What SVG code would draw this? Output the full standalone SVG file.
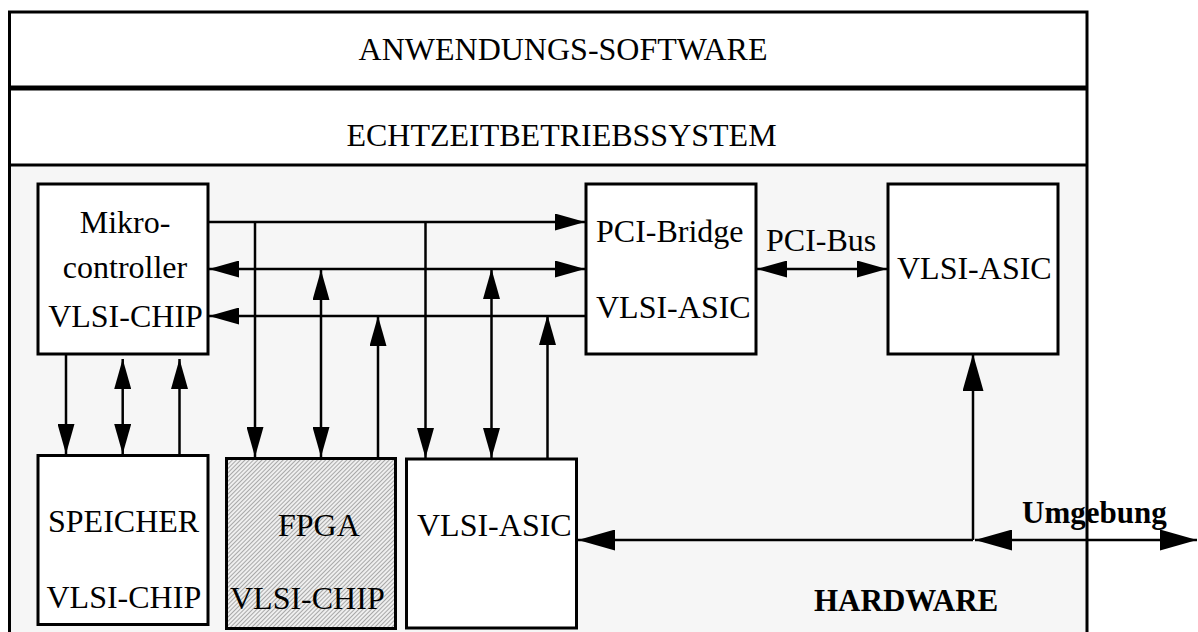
<svg xmlns="http://www.w3.org/2000/svg" width="1198" height="632" viewBox="0 0 1198 632">
  <style>
    .lbl { font-family: "Liberation Serif", "Times New Roman", serif; font-size: 32px; fill: #000; }
    .bold { font-family: "Liberation Serif", "Times New Roman", serif; font-size: 31px; font-weight: bold; fill: #000; }
    .box { fill: #fff; stroke: #000; stroke-width: 3; }
    .con { fill: none; stroke: #000; stroke-width: 2.5; }
    .arr { marker-end: url(#ah); }
    .arr2 { marker-start: url(#ah); marker-end: url(#ah); }
    .big { marker-end: url(#ahL); }
    .big2 { marker-start: url(#ahL); marker-end: url(#ahL); }
  </style>
  <defs>
    <marker id="ah" viewBox="0 0 30 17" markerWidth="30" markerHeight="17" refX="30" refY="8.5" orient="auto-start-reverse" markerUnits="userSpaceOnUse">
      <path d="M0,0 L30,8.5 L0,17 z" fill="#000"/>
    </marker>
    <marker id="ahL" viewBox="0 0 37 21" markerWidth="37" markerHeight="21" refX="37" refY="10.5" orient="auto-start-reverse" markerUnits="userSpaceOnUse">
      <path d="M0,0 L37,10.5 L0,21 z" fill="#000"/>
    </marker>
    <pattern id="hatch" width="3" height="3" patternUnits="userSpaceOnUse" patternTransform="rotate(45)">
      <rect width="3" height="3" fill="#efefef"/>
      <rect width="1" height="3" fill="#a8a8a8"/>
    </pattern>
  </defs>

  <rect width="1198" height="632" fill="#fff"/>

  <!-- layer frame -->
  <g id="layers">
    <rect x="9.5" y="166" width="1077.5" height="470" fill="#f6f6f6"/>
    <rect x="9.5" y="12" width="1077.5" height="630" fill="none" stroke="#000" stroke-width="3"/>
    <line x1="9.5" y1="88" x2="1087" y2="88" stroke="#000" stroke-width="5"/>
    <line x1="9.5" y1="165" x2="1087" y2="165" stroke="#000" stroke-width="3"/>
    <text class="lbl" x="563" y="60" text-anchor="middle">ANWENDUNGS-SOFTWARE</text>
    <text class="lbl" x="561.5" y="146" text-anchor="middle">ECHTZEITBETRIEBSSYSTEM</text>
    <text class="bold" x="814" y="611">HARDWARE</text>
  </g>

  <!-- connectors -->
  <g id="connectors">
    <line class="con arr" x1="208" y1="222" x2="585" y2="222"/>
    <line class="con arr2" x1="209" y1="269" x2="585" y2="269"/>
    <line class="con arr" x1="586" y1="316" x2="209" y2="316"/>

    <line class="con arr" x1="255" y1="222" x2="255" y2="457"/>
    <line class="con arr2" x1="321" y1="270" x2="321" y2="457"/>
    <line class="con arr" x1="378" y1="458" x2="378" y2="316"/>

    <line class="con arr" x1="425.5" y1="222" x2="425.5" y2="458"/>
    <line class="con arr2" x1="491.5" y1="269" x2="491.5" y2="458"/>
    <line class="con arr" x1="547.5" y1="458" x2="547.5" y2="315"/>

    <line class="con arr" x1="66" y1="355" x2="66" y2="454"/>
    <line class="con arr2" x1="122.7" y1="359" x2="122.7" y2="454"/>
    <line class="con arr" x1="179.5" y1="455" x2="179.5" y2="359"/>

    <line class="con arr2" x1="757" y1="269" x2="887" y2="269"/>

    <line class="con big" x1="973" y1="540" x2="973" y2="354"/>
    <line class="con big" x1="973" y1="540" x2="578" y2="540"/>
    <line class="con big2" x1="975" y1="540" x2="1197" y2="540"/>
    <text class="bold" x="1022" y="523">Umgebung</text>
  </g>

  <g id="mikrocontroller">
    <rect class="box" x="38" y="184" width="170" height="170"/>
    <text class="lbl" x="125" y="233" text-anchor="middle">Mikro-</text>
    <text class="lbl" x="125" y="278" text-anchor="middle">controller</text>
    <text class="lbl" x="125.5" y="327" text-anchor="middle">VLSI-CHIP</text>
  </g>

  <g id="pci-bridge">
    <rect class="box" x="586" y="184" width="170" height="170"/>
    <text class="lbl" x="596" y="242">PCI-Bridge</text>
    <text class="lbl" x="596" y="318">VLSI-ASIC</text>
  </g>

  <g id="pci-bus-label">
    <text class="lbl" x="766" y="251">PCI-Bus</text>
  </g>

  <g id="asic-top">
    <rect class="box" x="888" y="184" width="170" height="170"/>
    <text class="lbl" x="897" y="279">VLSI-ASIC</text>
  </g>

  <g id="speicher">
    <rect class="box" x="38" y="455.5" width="170" height="169"/>
    <text class="lbl" x="48" y="532">SPEICHER</text>
    <text class="lbl" x="46.5" y="608">VLSI-CHIP</text>
  </g>

  <g id="fpga">
    <rect x="226.5" y="458.5" width="169" height="170" fill="url(#hatch)" stroke="#000" stroke-width="3"/>
    <text class="lbl" x="278" y="536">FPGA</text>
    <text class="lbl" x="230" y="609">VLSI-CHIP</text>
  </g>

  <g id="asic-bottom">
    <rect class="box" x="406.5" y="459" width="170" height="169"/>
    <text class="lbl" x="417" y="536">VLSI-ASIC</text>
  </g>
</svg>
